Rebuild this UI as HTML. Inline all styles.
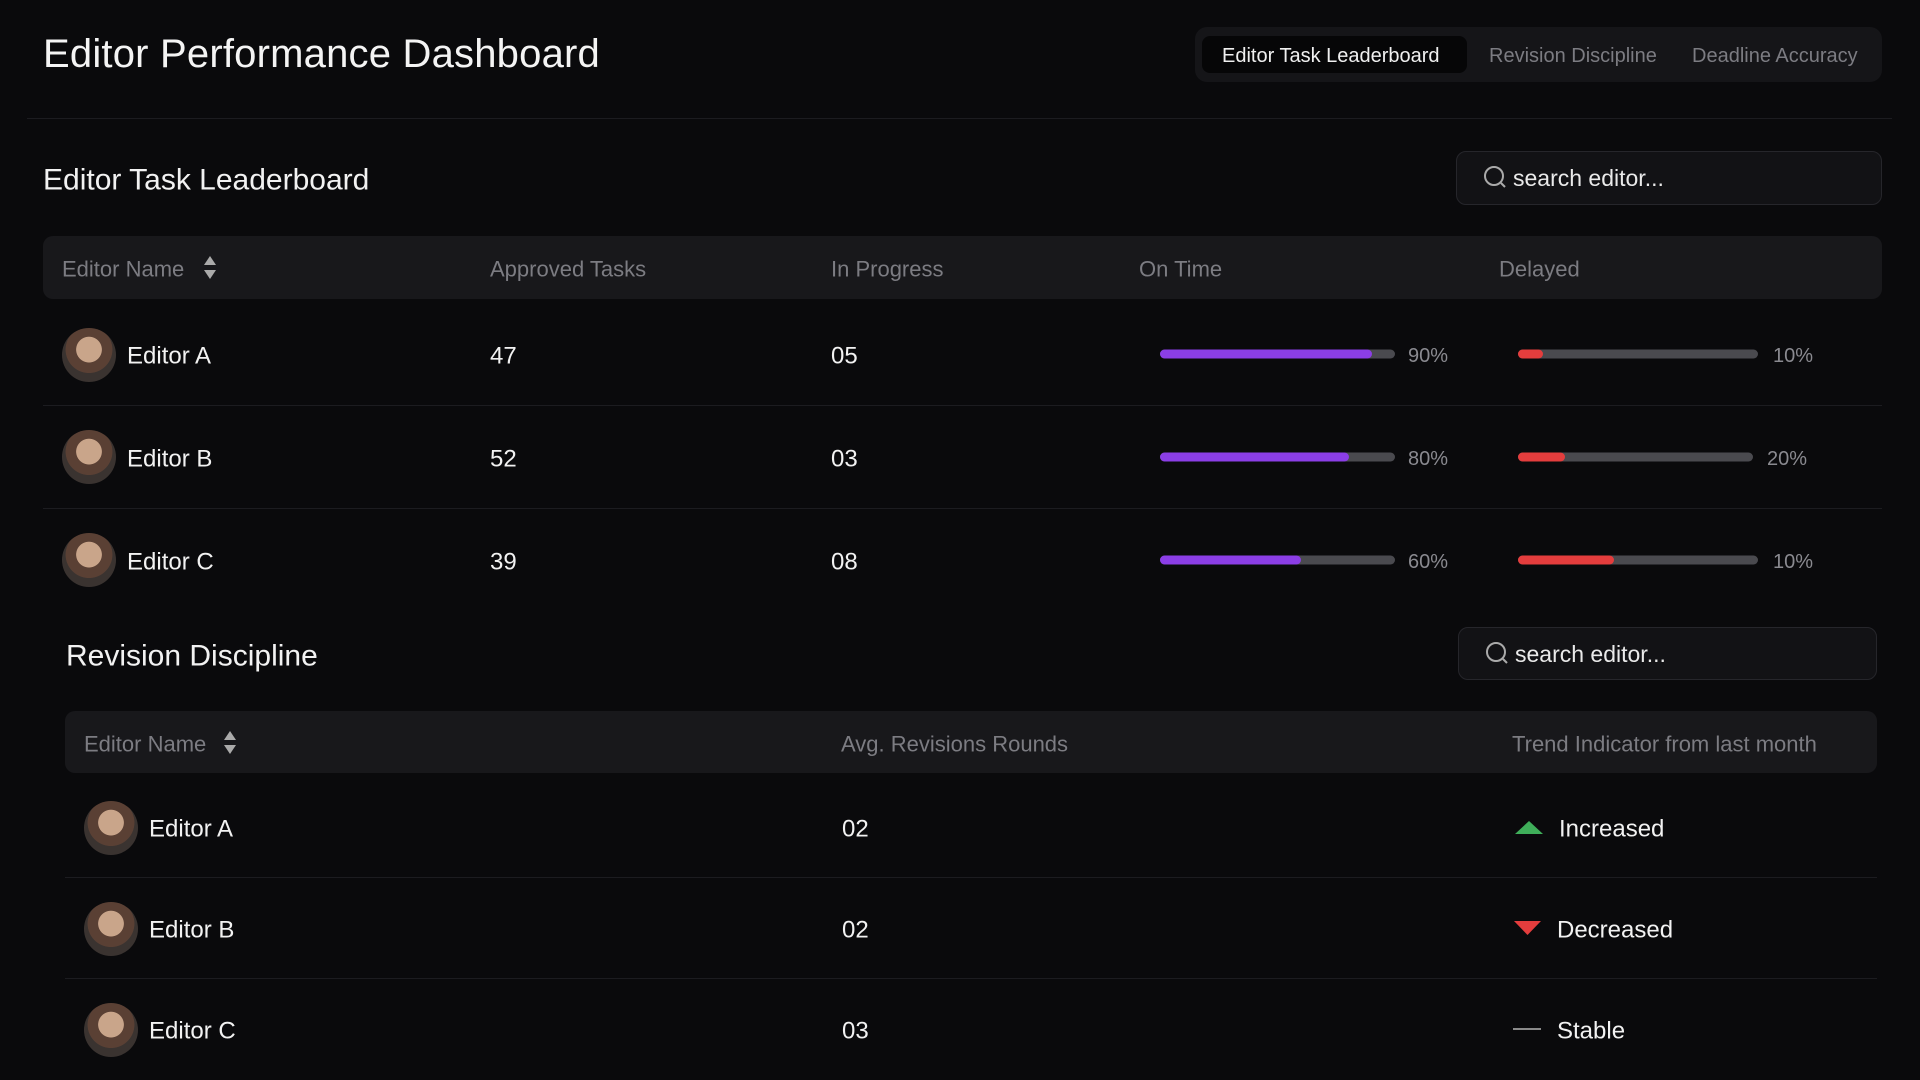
<!DOCTYPE html>
<html><head><meta charset="utf-8"><style>
*{margin:0;padding:0;box-sizing:border-box}
body{width:1920px;height:1080px;background:#0a0a0c;font-family:"Liberation Sans",sans-serif;color:#f2f2f2;position:relative;overflow:hidden}
.a{position:absolute;white-space:nowrap}
.mid{transform:translateY(-48%)}
.hdr{position:absolute;background:#18181b;border-radius:10px}
.h{color:#7c7c82;font-size:22px}
.sep{position:absolute;height:1px;background:#1c1c20}
.av{position:absolute;width:54px;height:54px;border-radius:50%;transform:translate(-50%,-50%);background:radial-gradient(circle at 50% 40%,#c9a58a 0 30%,#5a4034 31% 55%,#3a3330 56%)}
.nm{font-size:24px;color:#f2f2f2}
.bar{position:absolute;height:9px;border-radius:5px;background:#4a4a4f;transform:translateY(-50%)}
.bar i{display:block;height:100%;border-radius:5px}
.pc{font-size:20px;color:#8a8a90}
.search{position:absolute;background:#121215;border:1px solid #26262b;border-radius:10px}
.search .t{position:absolute;left:56px;top:50%;transform:translateY(-48%);font-size:23px;color:#eaeaea}
.search svg{position:absolute;left:26px;top:50%;transform:translateY(-50%)}
.srt{position:absolute}
</style></head><body>
<div class="a" style="left:43px;top:32px;font-size:40px;color:#f4f4f4;letter-spacing:0.2px">Editor Performance Dashboard</div>
<div class="a" style="left:1195px;top:27px;width:687px;height:55px;background:#151518;border-radius:12px"></div>
<div class="a" style="left:1202px;top:36px;width:265px;height:37px;background:#060607;border-radius:8px"></div>
<div class="a mid" style="left:1222px;top:56px;font-size:20px;color:#f0f0f0">Editor Task Leaderboard</div>
<div class="a mid" style="left:1489px;top:56px;font-size:20px;color:#7c7c82">Revision Discipline</div>
<div class="a mid" style="left:1692px;top:56px;font-size:20px;color:#7c7c82">Deadline Accuracy</div>
<div class="sep" style="left:27px;top:118px;width:1865px"></div>

<div class="a mid" style="left:43px;top:180px;font-size:30px">Editor Task Leaderboard</div>
<div class="search" style="left:1456px;top:151px;width:426px;height:54px"><svg width="26" height="26" viewBox="0 0 26 26"><circle cx="11" cy="11" r="9" fill="none" stroke="#aaa" stroke-width="2"/><line x1="18" y1="18" x2="22" y2="22" stroke="#aaa" stroke-width="2"/></svg><span class="t">search editor...</span></div>

<div class="hdr" style="left:43px;top:236px;width:1839px;height:63px"></div>
<div class="a mid h" style="left:62px;top:269px">Editor Name</div>
<svg class="srt" style="left:203px;top:256px" width="14" height="24"><polygon points="7,0 13,9 1,9" fill="#aaa"/><polygon points="1,14 13,14 7,23" fill="#aaa"/></svg>
<div class="a mid h" style="left:490px;top:269px">Approved Tasks</div>
<div class="a mid h" style="left:831px;top:269px">In Progress</div>
<div class="a mid h" style="left:1139px;top:269px">On Time</div>
<div class="a mid h" style="left:1499px;top:269px">Delayed</div>

<div class="av" style="left:89px;top:355px"></div>
<div class="a mid nm" style="left:127px;top:356px">Editor A</div>
<div class="a mid nm" style="left:490px;top:356px">47</div>
<div class="a mid nm" style="left:831px;top:356px">05</div>
<div class="bar" style="left:1160px;top:354px;width:235px"><i style="width:212px;background:#8b3ee6"></i></div>
<div class="a mid pc" style="left:1408px;top:356px">90%</div>
<div class="bar" style="left:1518px;top:354px;width:240px"><i style="width:25px;background:#e43d3d"></i></div>
<div class="a mid pc" style="left:1773px;top:356px">10%</div>
<div class="sep" style="left:43px;top:405px;width:1839px"></div>

<div class="av" style="left:89px;top:457px"></div>
<div class="a mid nm" style="left:127px;top:459px">Editor B</div>
<div class="a mid nm" style="left:490px;top:459px">52</div>
<div class="a mid nm" style="left:831px;top:459px">03</div>
<div class="bar" style="left:1160px;top:457px;width:235px"><i style="width:189px;background:#8b3ee6"></i></div>
<div class="a mid pc" style="left:1408px;top:459px">80%</div>
<div class="bar" style="left:1518px;top:457px;width:235px"><i style="width:47px;background:#e43d3d"></i></div>
<div class="a mid pc" style="left:1767px;top:459px">20%</div>
<div class="sep" style="left:43px;top:508px;width:1839px"></div>

<div class="av" style="left:89px;top:560px"></div>
<div class="a mid nm" style="left:127px;top:562px">Editor C</div>
<div class="a mid nm" style="left:490px;top:562px">39</div>
<div class="a mid nm" style="left:831px;top:562px">08</div>
<div class="bar" style="left:1160px;top:560px;width:235px"><i style="width:141px;background:#8b3ee6"></i></div>
<div class="a mid pc" style="left:1408px;top:562px">60%</div>
<div class="bar" style="left:1518px;top:560px;width:240px"><i style="width:96px;background:#e43d3d"></i></div>
<div class="a mid pc" style="left:1773px;top:562px">10%</div>

<div class="a mid" style="left:66px;top:656px;font-size:30px">Revision Discipline</div>
<div class="search" style="left:1458px;top:627px;width:419px;height:53px"><svg width="26" height="26" viewBox="0 0 26 26"><circle cx="11" cy="11" r="9" fill="none" stroke="#aaa" stroke-width="2"/><line x1="18" y1="18" x2="22" y2="22" stroke="#aaa" stroke-width="2"/></svg><span class="t">search editor...</span></div>

<div class="hdr" style="left:65px;top:711px;width:1812px;height:62px"></div>
<div class="a mid h" style="left:84px;top:744px">Editor Name</div>
<svg class="srt" style="left:223px;top:731px" width="14" height="24"><polygon points="7,0 13,9 1,9" fill="#aaa"/><polygon points="1,14 13,14 7,23" fill="#aaa"/></svg>
<div class="a mid h" style="left:841px;top:744px">Avg. Revisions Rounds</div>
<div class="a mid h" style="left:1512px;top:744px">Trend Indicator from last month</div>

<div class="av" style="left:111px;top:828px"></div>
<div class="a mid nm" style="left:149px;top:829px">Editor A</div>
<div class="a mid nm" style="left:842px;top:829px">02</div>
<svg class="a" style="left:1515px;top:821px" width="28" height="14"><polygon points="14,0 28,13 0,13" fill="#3fae5a"/></svg>
<div class="a mid nm" style="left:1559px;top:829px">Increased</div>
<div class="sep" style="left:65px;top:877px;width:1812px"></div>

<div class="av" style="left:111px;top:929px"></div>
<div class="a mid nm" style="left:149px;top:930px">Editor B</div>
<div class="a mid nm" style="left:842px;top:930px">02</div>
<svg class="a" style="left:1514px;top:921px" width="28" height="15"><polygon points="0,0 27,0 13.5,14" fill="#e43d3d"/></svg>
<div class="a mid nm" style="left:1557px;top:930px">Decreased</div>
<div class="sep" style="left:65px;top:978px;width:1812px"></div>

<div class="av" style="left:111px;top:1030px"></div>
<div class="a mid nm" style="left:149px;top:1031px">Editor C</div>
<div class="a mid nm" style="left:842px;top:1031px">03</div>
<div class="a" style="left:1513px;top:1028px;width:28px;height:2px;background:#8a8a8a"></div>
<div class="a mid nm" style="left:1557px;top:1031px">Stable</div>
</body></html>
